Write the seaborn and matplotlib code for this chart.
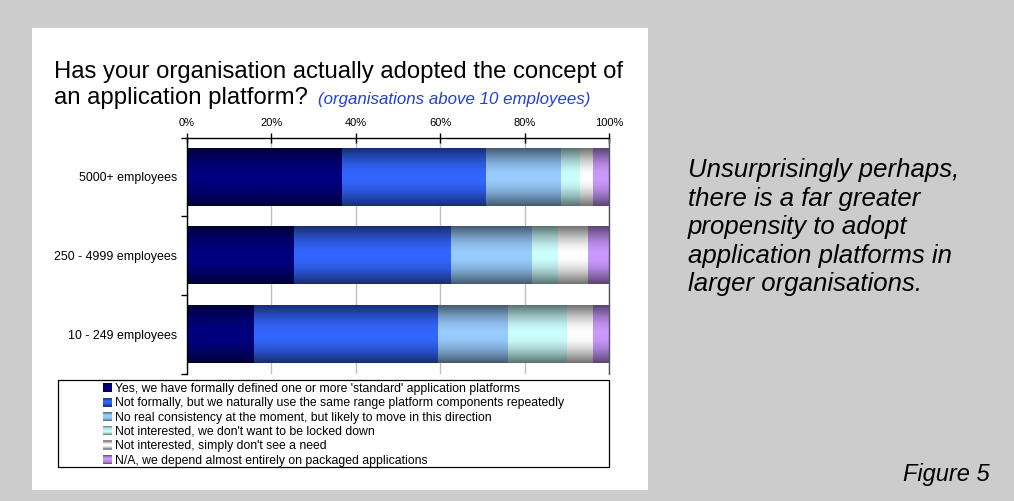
import numpy as np
import pandas as pd
import matplotlib
matplotlib.use("Agg")
import matplotlib.pyplot as plt
import seaborn as sns
from matplotlib.patches import Rectangle
from matplotlib.colors import to_rgb
from matplotlib.legend_handler import HandlerBase

# ---- data -----------------------------------------------------------------
categories = ["5000+ employees", "250 - 4999 employees", "10 - 249 employees"]
responses = [
    "Yes, we have formally defined one or more 'standard' application platforms",
    "Not formally, but we naturally use the same range platform components repeatedly",
    "No real consistency at the moment, but likely to move in this direction",
    "Not interested, we don't want to be locked down",
    "Not interested, simply don't see a need",
    "N/A, we depend almost entirely on packaged applications",
]
formally_defined = [36.7, 25.3, 15.8]
naturally_reused = [34.1, 37.2, 43.6]
likely_to_move = [17.8, 19.2, 16.6]
not_locked_down = [4.5, 6.1, 14.0]
no_need = [3.1, 7.2, 6.0]
packaged_apps = [3.8, 5.0, 4.0]
xtick_values = [0, 20, 40, 60, 80, 100]
xtick_labels = ["0%", "20%", "40%", "60%", "80%", "100%"]

series = [formally_defined, naturally_reused, likely_to_move,
          not_locked_down, no_need, packaged_apps]
colors = ["#000080", "#3366FF", "#99CCFF", "#CCFFFF", "#FFFFFF", "#CC99FF"]

title_line1 = "Has your organisation actually adopted the concept of"
title_line2 = "an application platform?"
subtitle = "(organisations above 10 employees)"
side_note = ["Unsurprisingly perhaps,", "there is a far greater",
             "propensity to adopt", "application platforms in",
             "larger organisations."]
figure_label = "Figure 5"

# ---- styling helpers -------------------------------------------------------
sns.set_theme(style="white")
plt.rcParams["font.family"] = ["Liberation Sans", "DejaVu Sans"]
for key in ["text.color", "axes.labelcolor", "xtick.color", "ytick.color"]:
    plt.rcParams[key] = "black"

W, H = 1014, 501


def fx(px):
    return px / W


def fy(py):
    return 1 - py / H


def shade(t):
    """Brightness factor across a bar's thickness (t in 0..1)."""
    return 0.45 + 0.55 * np.sin(np.pi * t)


def gradient(color, n=64):
    base = np.array(to_rgb(color))
    t = np.linspace(0, 1, n)
    return (shade(t)[:, None] * base[None, :])[:, None, :]


class GradientSquare(HandlerBase):
    def create_artists(self, legend, orig_handle, xdescent, ydescent,
                       width, height, fontsize, trans):
        base = np.array(orig_handle.get_facecolor()[:3])
        n = 8
        arts = []
        for i in range(n):
            f = shade((i + 0.5) / n)
            arts.append(Rectangle((-xdescent, -ydescent + i * height / n),
                                  width, height / n * 1.05,
                                  facecolor=base * f, edgecolor="none",
                                  transform=trans))
        return arts


# ---- figure ----------------------------------------------------------------
fig = plt.figure(figsize=(W / 100, H / 100), dpi=100, facecolor="#CCCCCC")
fig.add_artist(Rectangle((fx(32), fy(490)), fx(648) - fx(32), fy(27.7) - fy(490),
                         transform=fig.transFigure, facecolor="white",
                         edgecolor="none", zorder=-10))
fig.add_artist(Rectangle((fx(58), fy(467)), fx(609) - fx(58), fy(380) - fy(467),
                         transform=fig.transFigure, facecolor="white",
                         edgecolor="black", linewidth=0.9, zorder=-5))

ax = fig.add_axes([fx(187), fy(373.7), fx(609) - fx(187), fy(137.5) - fy(373.7)])
ax.set_facecolor("white")

cum = np.cumsum(np.array(series), axis=0)
for k in reversed(range(len(series))):
    df = pd.DataFrame({"group": categories, "share": cum[k]})
    start = len(ax.patches)
    sns.barplot(data=df, x="share", y="group", orient="h", color=colors[k],
                saturation=1, width=0.73, errorbar=None, ax=ax)
    for p in ax.patches[start:]:
        x0, y0 = p.get_x(), p.get_y()
        w, h = p.get_width(), p.get_height()
        ax.imshow(gradient(colors[k]), extent=(x0, x0 + w, y0 + h, y0),
                  aspect="auto", interpolation="bilinear",
                  zorder=2 + (len(series) - k) * 0.01)
        p.set_facecolor("none")
        p.set_edgecolor("none")

ax.set_xlim(0, 100)
ax.set_ylim(2.5, -0.5)
ax.set_xlabel("")
ax.set_ylabel("")

ax.xaxis.tick_top()
ax.set_xticks(xtick_values)
ax.set_xticklabels(xtick_labels)
ax.tick_params(axis="x", which="major", direction="inout", length=7, width=1,
               pad=3, labelsize=8, colors="black", top=True, bottom=False)
ax.set_yticks(range(len(categories)))
ax.set_yticklabels(categories)
ax.set_yticks([-0.5, 0.5, 1.5, 2.5], minor=True)
ax.tick_params(axis="y", which="major", length=0, pad=7, labelsize=8.9,
               colors="black")
ax.tick_params(axis="y", which="minor", direction="out", length=4, width=1,
               color="black", left=True)

ax.grid(axis="x", color="#BFBFBF", linewidth=1)
ax.grid(axis="y", visible=False)
ax.set_axisbelow(True)
for side in ["top", "left"]:
    ax.spines[side].set_color("black")
    ax.spines[side].set_linewidth(1)
ax.spines["right"].set_color("#555555")
ax.spines["right"].set_linewidth(1)
ax.spines["bottom"].set_visible(False)

handles = [Rectangle((0, 0), 1, 1, facecolor=c) for c in colors]
fig.legend(handles, responses, loc="upper left",
           bbox_to_anchor=(fx(103), fy(383)), frameon=False, fontsize=8.8,
           handlelength=0.75, handleheight=0.75, handletextpad=0.25,
           labelspacing=0.19, borderpad=0, borderaxespad=0,
           handler_map={Rectangle: GradientSquare()})

# ---- texts -----------------------------------------------------------------
fig.text(fx(54.5), fy(78), title_line1, fontsize=17.2, va="baseline", ha="left")
fig.text(fx(54.5), fy(104), title_line2, fontsize=17.2, va="baseline", ha="left")
fig.text(fx(317.8), fy(104), subtitle, fontsize=12.2, style="italic",
         color="#1F3FE0", va="baseline", ha="left")

for i, line in enumerate(side_note):
    fig.text(fx(688), fy(177 + 28.5 * i), line, fontsize=18.5, style="italic",
             va="baseline", ha="left")
fig.text(fx(903), fy(480.7), figure_label, fontsize=17, style="italic",
         va="baseline", ha="left")

fig.savefig("out.png", dpi=100, facecolor=fig.get_facecolor())
